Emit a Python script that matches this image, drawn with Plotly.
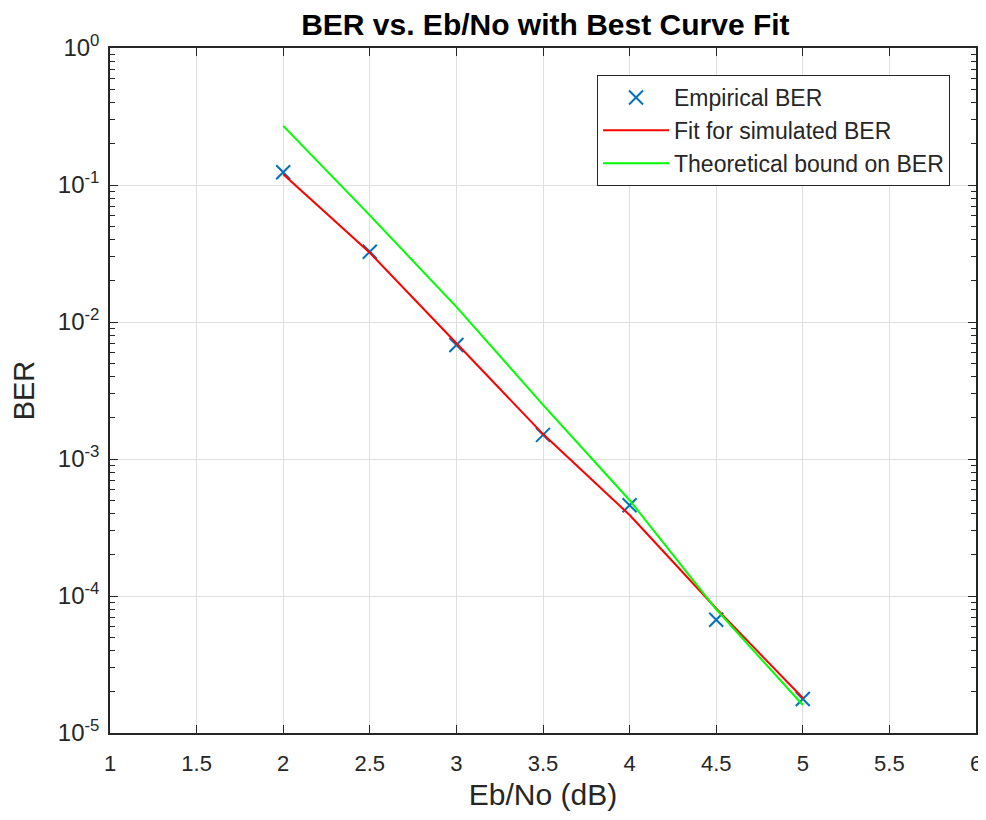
import plotly.graph_objects as go

# Data
ebno = [2.0, 2.5, 3.0, 3.5, 4.0, 4.5, 5.0]
ber_empirical = [0.124, 0.0326, 0.0068, 0.0015, 4.6e-4, 6.7e-5, 1.77e-5]
ber_fit = [0.12, 0.032, 0.0070, 0.00152, 3.9e-4, 8.1e-5, 1.8e-5]
ber_theory = [0.27, 0.060, 0.0129, 0.00248, 5.0e-4, 8.0e-5, 1.6e-5]

x_ticks = [1, 1.5, 2, 2.5, 3, 3.5, 4, 4.5, 5, 5.5, 6]
y_tickvals = [1, 1e-1, 1e-2, 1e-3, 1e-4, 1e-5]
y_ticktext = ["10<sup>0</sup>", "10<sup>-1</sup>", "10<sup>-2</sup>",
              "10<sup>-3</sup>", "10<sup>-4</sup>", "10<sup>-5</sup>"]

FONT = "Liberation Sans, Arial, sans-serif"
AX = "#262626"
GRID = "#dfdfdf"

fig = go.Figure()
fig.add_trace(go.Scatter(
    x=ebno, y=ber_empirical, mode="markers", name="Empirical BER",
    marker=dict(symbol="x-thin", size=14, line=dict(width=2, color="#0072BD"), color="#0072BD"),
))
fig.add_trace(go.Scatter(
    x=ebno, y=ber_fit, mode="lines", name="Fit for simulated BER",
    line=dict(color="#FF0000", width=2),
))
fig.add_trace(go.Scatter(
    x=ebno, y=ber_theory, mode="lines", name="Theoretical bound on BER",
    line=dict(color="#00FF00", width=2),
))

fig.update_layout(
    width=986, height=820,
    margin=dict(l=102, r=18, t=40, b=95, autoexpand=False),
    paper_bgcolor="white", plot_bgcolor="white",
    font=dict(family=FONT, color=AX, size=22),
    title=dict(text="<b>BER vs. Eb/No with Best Curve Fit</b>", x=0.545, xanchor="center",
               y=0.980, yanchor="middle", font=dict(size=30, color="black", family=FONT)),
    showlegend=True,
    legend=dict(x=0.970, y=0.9606, xanchor="right", yanchor="top",
                bordercolor=AX, borderwidth=1, bgcolor="white",
                font=dict(size=23, color=AX), tracegroupgap=0, itemwidth=66),
)
fig.update_xaxes(
    range=[1, 6], tickvals=x_ticks, ticktext=[str(v) for v in x_ticks],
    showline=True, linecolor=AX, linewidth=1.5, mirror="ticks",
    ticks="inside", ticklen=8, tickcolor=AX, ticklabelstandoff=10,
    showgrid=True, gridcolor=GRID, gridwidth=1, zeroline=False,
    tickfont=dict(size=22, color=AX),
    title=dict(text="Eb/No (dB)", font=dict(size=30, color=AX), standoff=9),
)
fig.update_yaxes(
    type="log", range=[-5, 0], tickvals=y_tickvals, ticktext=y_ticktext,
    showline=True, linecolor=AX, linewidth=1.5, mirror="ticks",
    ticks="inside", ticklen=8, tickcolor=AX, ticklabelstandoff=4,
    minor=dict(ticks="inside", ticklen=5, tickcolor=AX, dtick="D1", showgrid=False),
    showgrid=True, gridcolor=GRID, gridwidth=1, zeroline=False,
    tickfont=dict(size=24, color=AX),
    title=dict(text="BER", font=dict(size=29, color=AX), standoff=16),
)

fig.write_html("out.html")
